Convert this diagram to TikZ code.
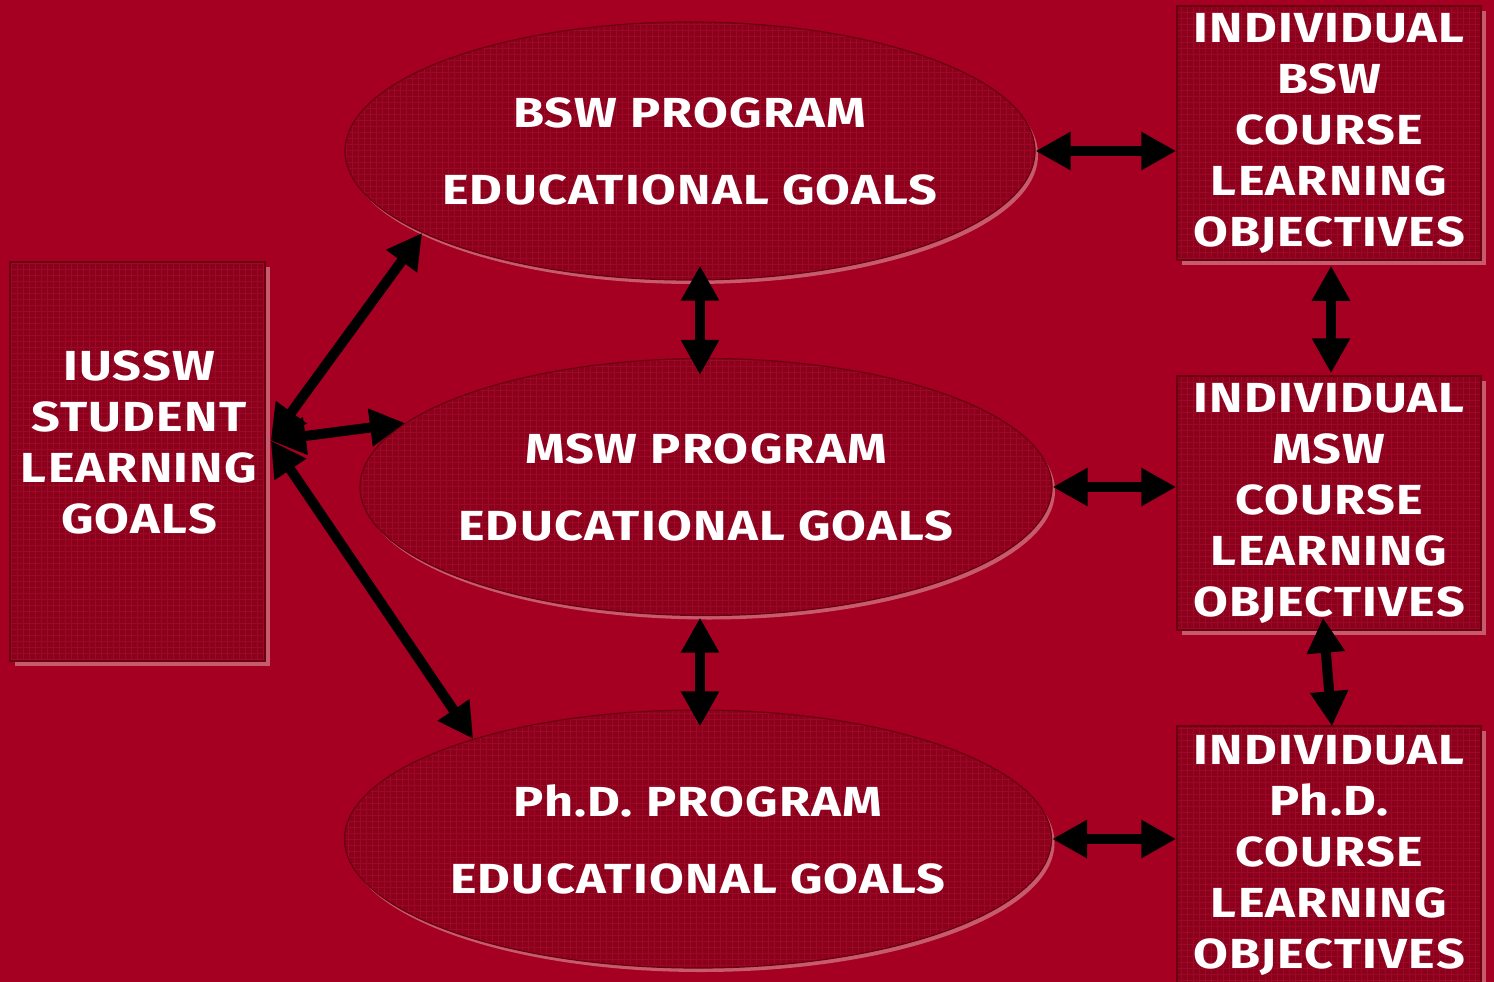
\documentclass[tikz,border=0pt]{standalone}
\usepackage{fontspec}
\newfontfamily\comic{Fira Sans}[FakeStretch=1.2, LetterSpace=3]
\usetikzlibrary{arrows.meta,shapes.geometric,calc,shadows}
\definecolor{bg}{HTML}{A50021}
\definecolor{shapefill}{HTML}{8C001C}
\definecolor{shade}{HTML}{C85A6E}
\definecolor{rim}{HTML}{6A0010}
\definecolor{gridc}{HTML}{980A27}
\tikzset{
  gridded/.style={path picture={\draw[gridc, line width=0.5pt] (path picture bounding box.south west) grid[step=6pt] (path picture bounding box.north east);}},
  panel/.style={rectangle, draw=rim, line width=1.5pt, fill=shapefill, inner sep=0pt, gridded,
    general shadow={fill=shade, shadow xshift=5pt, shadow yshift=-5pt}},
  oval/.style={ellipse, draw=rim, line width=1.2pt, fill=shapefill, inner xsep=-40pt, inner ysep=0pt, gridded,
    general shadow={fill=shade, shadow xshift=3pt, shadow yshift=-4pt}},
  boxtext/.style={text=white, align=center, font=\comic\bfseries\fontsize{42}{51}\selectfont},
  ovaltext/.style={text=white, align=center, font=\comic\bfseries\fontsize{42}{77}\selectfont},
  dbl/.style={line width=10pt, {Triangle[length=35pt,width=36pt]}-{Triangle[length=35pt,width=36pt]}}
}
\begin{document}
\begin{tikzpicture}[x=1pt,y=-1pt]
\fill[bg] (0,0) rectangle (1494,982);
\useasboundingbox (0,0) rectangle (1494,982);

% left box
\node[panel, minimum width=255pt, minimum height=399pt] (iussw) at (137.5,461.5) {};
\node[boxtext] (iusswtext) at (139,442) {IUSSW\\STUDENT\\LEARNING\\GOALS};

% ellipses
\node[oval, ovaltext, minimum width=690pt, minimum height=258pt] (bswE) at (690,151) {BSW PROGRAM\\EDUCATIONAL GOALS};
\node[oval, ovaltext, minimum width=692pt, minimum height=257pt] (mswE) at (706,487) {MSW PROGRAM\\EDUCATIONAL GOALS};
\node[oval, ovaltext, minimum width=707pt, minimum height=258pt] (phdE) at (698,839) {Ph.D. PROGRAM\\EDUCATIONAL GOALS};

% right boxes
\node[panel, boxtext, minimum width=304pt, minimum height=254pt] (bswbox) at (1329,133) {INDIVIDUAL\\BSW\\COURSE\\LEARNING\\OBJECTIVES};
\node[panel, boxtext, minimum width=304pt, minimum height=254pt] (mswbox) at (1329,503) {INDIVIDUAL\\MSW\\COURSE\\LEARNING\\OBJECTIVES};
\node[panel, boxtext, minimum width=304pt, minimum height=258pt] (phdbox) at (1329,855) {INDIVIDUAL\\Ph.D.\\COURSE\\LEARNING\\OBJECTIVES};

\coordinate (hub) at ([shift={(5,-21)}]iussw.east);

% connectors
\draw[dbl] (hub) -- (bswE.197);
\draw[dbl] (hub) -- (mswE.168);
\draw[dbl] (hub) -- (phdE.156);
\draw[dbl] (bswE.east) -- (bswE.east -| bswbox.west);
\draw[dbl] (mswE.east) -- (mswE.east -| mswbox.west);
\draw[dbl] (phdE.east) -- (phdE.east -| phdbox.west);
\draw[dbl] ([shift={(10,-15)}]bswE.south) -- ([shift={(-6,17)}]mswE.north);
\draw[dbl] ([shift={(-6,1.5)}]mswE.south) -- ([shift={(2,17)}]phdE.north);
\draw[dbl] ([shift={(2,5)}]bswbox.south) -- ([shift={(2,-2)}]mswbox.north);
\draw[dbl] ([shift={(-6,-13)}]mswbox.south) -- ([shift={(3,1)}]phdbox.north);
\end{tikzpicture}
\end{document}
